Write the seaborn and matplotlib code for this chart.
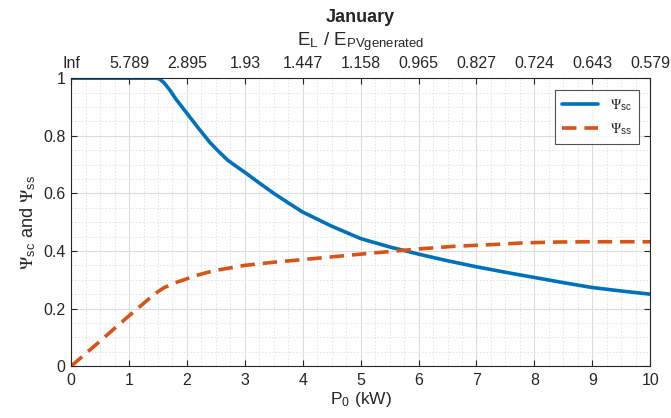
import numpy as np
import pandas as pd
import matplotlib
matplotlib.use("Agg")
import matplotlib.pyplot as plt
from matplotlib.ticker import MultipleLocator
import seaborn as sns

# Psi_sc (self-consumption)
p0_sc = [0, 0.5, 1.0, 1.45, 1.52, 1.6, 1.7, 1.8, 2.0, 2.2, 2.4, 2.55, 2.7, 2.85, 3.0, 3.25, 3.5, 3.75,
         4.0, 4.5, 5.0, 5.5, 6.0, 6.5, 7.0, 7.5, 8.0, 8.5, 9.0, 9.5, 10.0]
psi_sc = [1, 1, 1, 1, 0.998, 0.985, 0.96, 0.93, 0.878, 0.826, 0.776, 0.745, 0.716, 0.694, 0.673, 0.636,
          0.600, 0.567, 0.535, 0.486, 0.443, 0.414, 0.389, 0.366, 0.345, 0.326, 0.308, 0.290, 0.273,
          0.261, 0.25]

# Psi_ss (self-sufficiency)
p0_ss = [0, 0.5, 1.0, 1.45, 1.6, 1.8, 1.95, 2.2, 2.45, 3.0, 3.5, 4.0, 5.0, 6.0, 6.6, 7.25, 7.8, 8.4, 9.0, 10.0]
psi_ss = [0, 0.087, 0.175, 0.252, 0.272, 0.290, 0.300, 0.317, 0.331, 0.350, 0.361, 0.370, 0.389, 0.407,
          0.416, 0.422, 0.428, 0.431, 0.432, 0.432]

# top axis: E_L / E_PVgenerated at P0 = 0..10
top_ticks = list(range(11))
top_labels = ["Inf", "5.789", "2.895", "1.93", "1.447", "1.158", "0.965", "0.827", "0.724", "0.643", "0.579"]

sns.set_style("white")
plt.rcParams["font.family"] = ["Liberation Sans", "DejaVu Sans"]
plt.rcParams["mathtext.fontset"] = "stix"
plt.rcParams["xtick.direction"] = "in"
plt.rcParams["ytick.direction"] = "in"

blue = "#0072BD"
orange = "#D95319"

df_sc = pd.DataFrame({"P0": p0_sc, "psi": psi_sc})
df_ss = pd.DataFrame({"P0": p0_ss, "psi": psi_ss})

fig = plt.figure(figsize=(6.71, 4.18), dpi=100)
ax = fig.add_axes([0.106, 0.124, 0.863, 0.689])

sns.lineplot(data=df_sc, x="P0", y="psi", ax=ax, color=blue, linewidth=2.6,
             label=r"$\Psi_{\mathregular{sc}}$")
sns.lineplot(data=df_ss, x="P0", y="psi", ax=ax, color=orange, linewidth=2.6,
             label=r"$\Psi_{\mathregular{ss}}$")
ax.lines[1].set_dashes([4, 2.2])

ax.set_xlim(0, 10)
ax.set_ylim(0, 1)
ax.xaxis.set_major_locator(MultipleLocator(1))
ax.xaxis.set_minor_locator(MultipleLocator(0.25))
ax.yaxis.set_minor_locator(MultipleLocator(0.05))
ax.set_yticks([0, 0.2, 0.4, 0.6, 0.8, 1.0])
ax.set_yticklabels(["0", "0.2", "0.4", "0.6", "0.8", "1"])

ax.grid(which="major", color="#dcdcdc", linewidth=0.8)
ax.grid(which="minor", color="#e2e2e2", linewidth=0.7, linestyle=(0, (1.5, 2)))
ax.set_axisbelow(True)

ax.tick_params(which="major", length=4, width=0.8, labelsize=11.5, right=True, left=True, bottom=True)
ax.tick_params(axis="x", which="major", pad=5)
ax.tick_params(axis="y", which="major", pad=4)
ax.tick_params(which="minor", length=0)
for s in ax.spines.values():
    s.set_color("#262626")
    s.set_linewidth(0.8)

ax.set_xlabel(r"P$_\mathregular{0}$ (kW)", fontsize=12.5, labelpad=1)
ax.set_ylabel(r"$\Psi_{\mathregular{sc}}$ and $\Psi_{\mathregular{ss}}$", fontsize=13, labelpad=4)

top = ax.twiny()
top.set_xlim(ax.get_xlim())
top.set_xticks(top_ticks)
top.set_xticklabels(top_labels)
top.tick_params(axis="x", direction="in", length=4, width=0.8, labelsize=11.5, pad=5)
top.set_xlabel(r"E$_\mathregular{L}$ / E$_\mathregular{PVgenerated}$", fontsize=13.5, labelpad=8)
for s in top.spines.values():
    s.set_visible(False)
top.set_title("January", fontsize=13, fontweight="bold", pad=6)

leg = ax.legend(loc="upper right", bbox_to_anchor=(0.98, 0.958), borderaxespad=0,
                fontsize=10, frameon=True, fancybox=False, handlelength=2.6,
                borderpad=0.5, labelspacing=0.6, edgecolor="#262626")
leg.get_frame().set_linewidth(0.8)

fig.savefig("out.png", dpi=100)
